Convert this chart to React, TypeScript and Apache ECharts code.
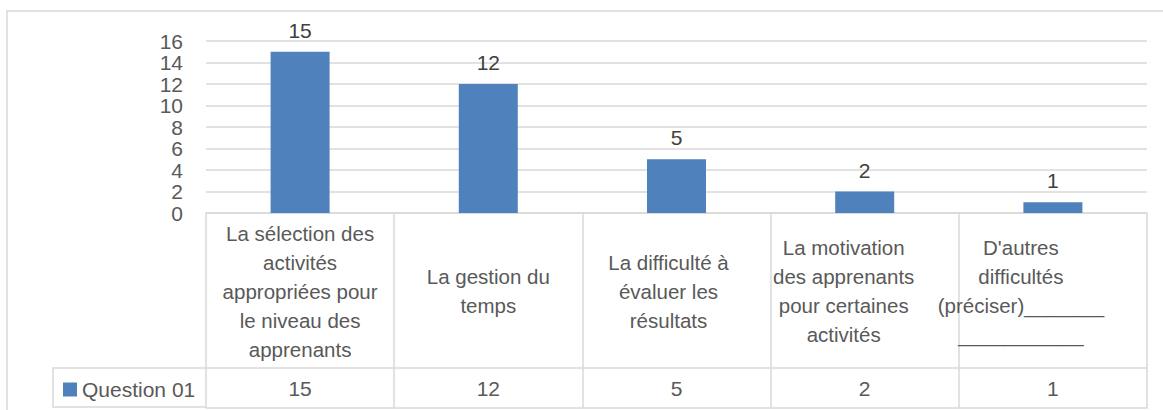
import React, { useEffect, useRef } from "react";
import * as echarts from "echarts";

const categories: string[] = [
  "La sélection des\nactivités\nappropriées pour\nle niveau des\napprenants",
  "La gestion du\ntemps",
  "La difficulté à\névaluer les\nrésultats",
  "La motivation\ndes apprenants\npour certaines\nactivités",
  "D'autres\ndifficultés\n(préciser)_______\n___________",
];
const seriesName = "Question 01";
const values: number[] = [15, 12, 5, 2, 1];
const yTicks = { min: 0, max: 16, interval: 2 };

const FONT = "'Liberation Sans', Arial, sans-serif";
const GRID = "#D9D9D9";
const TXT = "#595959";
const labelPadRight = [0, 0, 16, 42, 64];

export default function App() {
  const ref = useRef<HTMLDivElement>(null);
  useEffect(() => {
    if (!ref.current) return;
    const chart = echarts.init(ref.current, null, { renderer: "svg" });
    const rich: Record<string, any> = {};
    labelPadRight.forEach((p, i) => {
      rich["c" + i] = {
        fontSize: 20.5,
        lineHeight: 29,
        color: TXT,
        fontFamily: FONT,
        padding: [0, p, 0, 0],
      };
    });
    chart.setOption({
      animation: false,
      textStyle: { fontFamily: FONT },
      grid: {
        left: 206,
        right: 16,
        top: 41,
        bottom: 197,
        containLabel: false,
        outerBoundsMode: "none",
      },
      legend: {
        data: [seriesName],
        left: 58,
        top: 374,
        icon: "rect",
        itemWidth: 14,
        itemHeight: 14,
        itemGap: 6,
        textStyle: { fontSize: 21, color: TXT, fontFamily: FONT },
      },
      xAxis: [
        {
          type: "category",
          data: categories,
          position: "bottom",
          axisLine: { show: true, lineStyle: { color: GRID, width: 1.5 } },
          axisTick: { show: true, length: 195, lineStyle: { color: GRID, width: 1.5 } },
          axisLabel: {
            interval: 0,
            margin: 78,
            verticalAlign: "middle",
            align: "center",
            lineHeight: 29,
            fontSize: 20.5,
            color: TXT,
            fontFamily: FONT,
            hideOverlap: false,
            formatter: (v: string, i: number) =>
              v
                .split("\n")
                .map((l) => `{c${i}|${l}}`)
                .join("\n"),
            rich,
          },
          splitLine: { show: false },
        },
        {
          type: "category",
          data: categories,
          position: "bottom",
          offset: 155,
          axisLine: { show: true, lineStyle: { color: GRID, width: 1.5 } },
          axisTick: { show: false },
          axisLabel: {
            interval: 0,
            margin: 20,
            verticalAlign: "middle",
            fontSize: 21,
            color: TXT,
            fontFamily: FONT,
            formatter: (_v: string, i: number) => String(values[i]),
          },
        },
        {
          type: "category",
          data: categories,
          position: "bottom",
          offset: 195,
          axisLine: { show: true, lineStyle: { color: GRID, width: 1.5 } },
          axisTick: { show: false },
          axisLabel: { show: false },
        },
      ],
      yAxis: {
        type: "value",
        min: yTicks.min,
        max: yTicks.max,
        interval: yTicks.interval,
        axisLine: { show: false },
        axisTick: { show: false },
        axisLabel: { fontSize: 21, color: TXT, margin: 23, fontFamily: FONT },
        splitLine: { lineStyle: { color: GRID, width: 1.5 } },
      },
      graphic: [
        {
          type: "rect",
          shape: { x: 7, y: 11, width: 1200, height: 450 },
          style: { fill: "none", stroke: GRID, lineWidth: 1.5 },
          silent: true,
          z: -10,
        },
        {
          type: "polyline",
          shape: { points: [[206, 368], [53, 368], [53, 407], [206, 407]] },
          style: { fill: "none", stroke: GRID, lineWidth: 1.5 },
          silent: true,
        },
      ],
      series: [
        {
          name: seriesName,
          type: "bar",
          data: values,
          barWidth: 59,
          itemStyle: { color: "#4F81BD" },
          label: {
            show: true,
            position: "top",
            distance: 11,
            fontSize: 21,
            color: "#404040",
            fontFamily: FONT,
          },
        },
      ],
    });
    return () => chart.dispose();
  }, []);
  return (
    <div
      ref={ref}
      style={{ position: "absolute", left: 0, top: 0, width: 1163, height: 410 }}
    />
  );
}
